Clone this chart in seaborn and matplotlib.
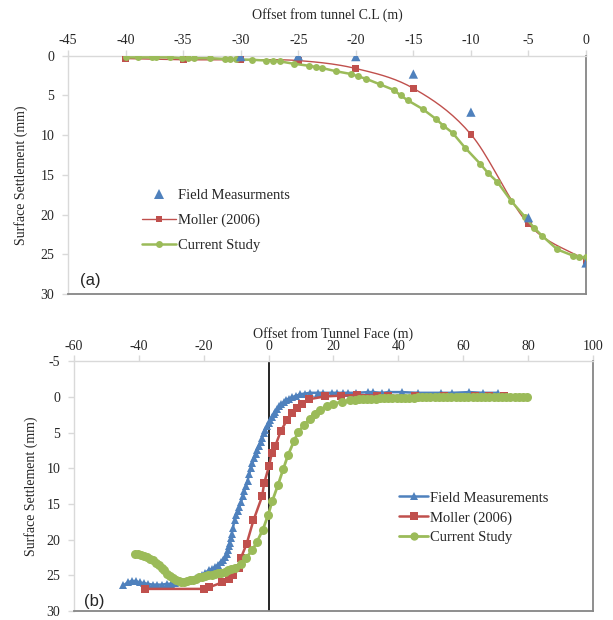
import numpy as np
import pandas as pd
import matplotlib
matplotlib.use("Agg")
import matplotlib.pyplot as plt
from matplotlib.lines import Line2D
import seaborn as sns

# ---------------- data: panel (a) ----------------
a_field_x = [-30, -25, -20, -15, -10, -5, 0]
a_field_y = [0.1, 0.0, 0.1, 2.3, 7.1, 20.4, 26.1]

a_moller_x = [-40, -35, -30, -25, -20, -15, -10, -5, 0]
a_moller_y = [0.35, 0.5, 0.5, 0.6, 1.6, 4.1, 9.9, 21.2, 25.8]

a_current_x = [-40.0, -38.9, -37.7, -37.4, -36.1, -35.1, -34.6, -34.1, -32.7, -31.4,
               -30.9, -30.4, -29.0, -27.8, -27.2, -26.6, -25.4, -24.1, -23.5, -22.9,
               -21.7, -20.4, -19.8, -19.1, -17.9, -16.7, -16.1, -15.5, -14.2, -13.0,
               -12.4, -11.6, -10.5, -9.2, -8.5, -7.7, -6.5, -5.3, -4.5, -3.8,
               -2.5, -1.1, -0.6, 0.0]
a_current_y = [0.2, 0.2, 0.2, 0.2, 0.2, 0.3, 0.3, 0.3, 0.3, 0.4,
               0.4, 0.45, 0.5, 0.6, 0.65, 0.7, 1.0, 1.25, 1.4, 1.55,
               1.95, 2.3, 2.6, 2.9, 3.6, 4.3, 5.0, 5.6, 6.7, 8.0,
               8.8, 9.7, 11.6, 13.6, 14.8, 15.9, 18.3, 20.3, 21.7, 22.7,
               24.4, 25.2, 25.4, 25.4]

# ---------------- data: panel (b) ----------------
b_field_x = [-44.8, -43.5, -42.3, -41.0, -39.8, -38.5, -37.2, -35.8, -34.5, -33.0,
             -31.5, -30.2, -28.8, -27.5, -26.2, -25.0, -23.8, -22.5, -21.5, -20.5,
             -19.5, -18.5, -17.5, -16.5, -15.6, -14.8, -14.1, -13.5, -13.0, -12.6,
             -12.3, -12.0, -11.7, -11.4, -11.0, -10.5, -10.0, -9.5, -9.0, -8.5,
             -8.0, -7.5, -7.0, -6.5, -6.0, -5.5, -5.0, -4.5, -4.0, -3.5,
             -3.0, -2.5, -2.0, -1.5, -1.0, -0.5, 0.0, 0.5, 1.0, 1.5,
             2.0, 2.6, 3.2, 3.9, 4.6, 5.4, 6.3, 7.3, 8.5, 9.8,
             11.2, 12.8, 15.3, 16.8, 19.4, 21.0, 23.0, 24.6, 27.0, 30.8,
             32.3, 35.0, 37.0, 41.0, 46.2, 53.2, 56.6, 61.9, 66.0, 70.7]
b_field_y = [26.4, 26.0, 25.8, 25.8, 26.0, 26.1, 26.2, 26.3, 26.3, 26.3,
             26.2, 26.2, 26.1, 26.0, 25.9, 25.8, 25.6, 25.4, 25.2, 24.9,
             24.6, 24.3, 24.1, 23.8, 23.5, 23.1, 22.8, 22.4, 22.0, 21.4,
             20.9, 20.4, 19.8, 19.2, 18.3, 17.2, 16.6, 16.0, 15.4, 14.7,
             13.9, 13.1, 12.4, 11.7, 10.8, 10.0, 9.3, 8.6, 8.0, 7.4,
             6.9, 6.3, 5.7, 5.1, 4.6, 4.1, 3.6, 3.2, 2.8, 2.4,
             2.1, 1.7, 1.3, 1.0, 0.7, 0.4, 0.2, 0.0, -0.2, -0.4,
             -0.5, -0.6, -0.6, -0.6, -0.6, -0.6, -0.6, -0.6, -0.6, -0.7,
             -0.7, -0.6, -0.7, -0.7, -0.6, -0.6, -0.6, -0.7, -0.6, -0.6]

b_moller_x = [-38.2, -19.8, -18.5, -14.4, -12.3, -11.0, -9.3, -8.6, -6.8, -4.7,
              -2.0, -1.4, 0.1, 1.0, 2.0, 3.8, 5.7, 7.3, 8.8, 10.3,
              12.4, 17.5, 22.2, 27.2, 33.3, 36.8, 45.3, 54.2, 63.6, 67.9, 72.6]
b_moller_y = [26.9, 26.9, 26.7, 26.0, 25.5, 24.9, 23.9, 22.6, 20.6, 17.3,
              13.9, 12.1, 9.7, 7.8, 6.9, 4.7, 3.2, 2.2, 1.5, 1.0,
              0.3, -0.1, -0.2, -0.3, -0.2, -0.2, -0.1, -0.1, -0.1, -0.1, -0.1]

b_current_x = [-41.3, -40.3, -39.4, -38.5, -37.6, -36.7, -35.8, -34.9, -33.9, -33.0,
               -32.2, -31.4, -30.5, -29.6, -28.7, -27.8, -26.9, -26.0, -25.1, -24.2,
               -23.3, -22.4, -21.5, -20.6, -19.6, -18.6, -17.6, -16.6, -15.6, -14.6,
               -13.6, -12.6, -11.6, -10.3, -8.5, -6.9, -5.1, -3.6, -1.8, -0.2,
               1.1, 2.9, 4.5, 6.0, 7.8, 9.1, 11.0, 12.7, 14.3, 15.8,
               17.9, 19.9, 22.5, 25.1, 26.5, 27.8, 29.1, 30.4, 31.7, 33.0,
               34.3, 35.6, 36.9, 38.2, 39.5, 40.8, 42.1, 43.4, 44.7, 46.0,
               47.3, 48.6, 49.9, 51.2, 52.5, 53.8, 55.1, 56.4, 57.7, 59.0,
               60.3, 61.6, 62.9, 64.2, 65.5, 66.8, 68.1, 69.4, 70.7, 72.0,
               73.3, 74.6, 75.9, 77.2, 78.5, 79.7]
b_current_y = [22.0, 22.0, 22.1, 22.3, 22.4, 22.7, 22.9, 23.2, 23.5, 23.9,
               24.3, 24.8, 25.1, 25.4, 25.6, 25.8, 25.9, 25.9, 25.8, 25.7,
               25.6, 25.5, 25.3, 25.2, 25.1, 25.0, 24.9, 24.8, 24.7, 24.6,
               24.5, 24.3, 24.1, 24.0, 23.4, 22.5, 21.5, 20.3, 18.6, 16.6,
               14.6, 12.3, 10.1, 8.1, 6.2, 4.9, 3.9, 3.0, 2.3, 1.8,
               1.3, 0.9, 0.7, 0.4, 0.35, 0.3, 0.3, 0.25, 0.22, 0.2,
               0.18, 0.16, 0.14, 0.12, 0.1, 0.1, 0.08, 0.07, 0.06, 0.05,
               0.05, 0.04, 0.03, 0.03, 0.02, 0.02, 0.02, 0.01, 0.01, 0.01,
               0.01, 0.0, 0.0, 0.0, 0.0, 0.0, 0.0, 0.0, 0.0, 0.0,
               0.0, 0.0, 0.0, 0.0, 0.0, 0.0]

a_xticks = [-45, -40, -35, -30, -25, -20, -15, -10, -5, 0]
a_yticks = [0, 5, 10, 15, 20, 25, 30]
b_xticks = [-60, -40, -20, 0, 20, 40, 60, 80, 100]
b_yticks = [-5, 0, 5, 10, 15, 20, 25, 30]

BLUE = "#4F81BD"
RED = "#C0504D"
GREEN = "#9BBB59"
LIGHT = "#D9D9D9"
DARK = "#868686"


def smooth(xs, ys, n=20):
    """Catmull-Rom style smoothing (like Excel's smoothed line)."""
    p = np.column_stack([xs, ys]).astype(float)
    m = np.zeros_like(p)
    m[1:-1] = (p[2:] - p[:-2]) / 2.0
    m[0] = p[1] - p[0]
    m[-1] = p[-1] - p[-2]
    out = []
    t = np.linspace(0, 1, n)[:, None]
    h00 = 2 * t**3 - 3 * t**2 + 1
    h10 = t**3 - 2 * t**2 + t
    h01 = -2 * t**3 + 3 * t**2
    h11 = t**3 - t**2
    for i in range(len(p) - 1):
        seg = h00 * p[i] + h10 * m[i] + h01 * p[i + 1] + h11 * m[i + 1]
        out.append(seg if i == 0 else seg[1:])
    s = np.vstack(out)
    return s[:, 0], s[:, 1]


sns.set_theme(style="white")
plt.rcParams["font.family"] = ["Liberation Serif", "DejaVu Serif"]
plt.rcParams["axes.unicode_minus"] = False

fig = plt.figure(figsize=(6.13, 6.20), dpi=100)
ax1 = fig.add_axes([0.111, 0.526, 0.845, 0.384])
ax2 = fig.add_axes([0.121, 0.0145, 0.846, 0.4025])

FS = 10

# ----- panel (a) -----
sx, sy = smooth(a_moller_x, a_moller_y)
sns.lineplot(x=sx, y=sy, ax=ax1, color=RED, lw=1.0, sort=False, estimator=None)
sns.scatterplot(x=a_moller_x, y=a_moller_y, ax=ax1, color=RED, marker="s", s=24,
                edgecolor="none", zorder=3)
sns.lineplot(x=a_current_x, y=a_current_y, ax=ax1, color=GREEN, lw=1.8, sort=False,
             estimator=None, marker="o", markersize=5, markeredgewidth=0, zorder=4)
sns.scatterplot(x=a_field_x, y=a_field_y, ax=ax1, color=BLUE, marker="^", s=45,
                edgecolor="none", zorder=5)

ax1.set_xlim(-45, 0)
ax1.set_ylim(30, 0)
ax1.set_xticks(a_xticks)
ax1.set_yticks(a_yticks)
ax1.xaxis.tick_top()
ax1.xaxis.set_label_position("top")
ax1.set_xlabel("Offset from tunnel C.L (m)", fontsize=FS, labelpad=11)
ax1.set_ylabel("Surface Settlement (mm)", fontsize=FS, labelpad=9)
ax1.text(-44.0, 28.3, "(a)", fontsize=12, family=["Liberation Sans", "DejaVu Sans"],
         va="center", ha="left")

h_a = [Line2D([], [], color=BLUE, marker="^", ls="none", markersize=7, markeredgewidth=0),
       Line2D([], [], color=RED, marker="s", lw=1.0, markersize=5, markeredgewidth=0),
       Line2D([], [], color=GREEN, marker="o", lw=1.8, markersize=5, markeredgewidth=0)]
ax1.legend(h_a, ["Field Measurments", "Moller (2006)", "Current Study"],
           loc="upper left", bbox_to_anchor=(0.118, 0.497), frameon=False,
           fontsize=10.5, labelspacing=0.8, handlelength=2.3, handletextpad=0.15)

# ----- panel (b) -----
ax2.axvline(0, color="black", lw=1.2, zorder=2)
sns.lineplot(x=b_field_x, y=b_field_y, ax=ax2, color=BLUE, lw=1.8, sort=False,
             estimator=None, marker="^", markersize=6, markeredgewidth=0, zorder=3)
sns.lineplot(x=b_moller_x, y=b_moller_y, ax=ax2, color=RED, lw=1.8, sort=False,
             estimator=None, marker="s", markersize=6, markeredgewidth=0, zorder=4)
sns.lineplot(x=b_current_x, y=b_current_y, ax=ax2, color=GREEN, lw=2.0, sort=False,
             estimator=None, marker="o", markersize=6.5, markeredgewidth=0, zorder=5)

ax2.set_xlim(-60, 100)
ax2.set_ylim(30, -5)
ax2.set_xticks(b_xticks)
ax2.set_yticks(b_yticks)
ax2.xaxis.tick_top()
ax2.xaxis.set_label_position("top")
ax2.set_xlabel("Offset from Tunnel Face (m)", fontsize=FS, labelpad=2)
ax2.set_ylabel("Surface Settlement (mm)", fontsize=FS, labelpad=6)
ax2.text(-57.0, 28.7, "(b)", fontsize=12, family=["Liberation Sans", "DejaVu Sans"],
         va="center", ha="left")

h_b = [Line2D([], [], color=BLUE, marker="^", lw=1.8, markersize=6, markeredgewidth=0),
       Line2D([], [], color=RED, marker="s", lw=1.8, markersize=6, markeredgewidth=0),
       Line2D([], [], color=GREEN, marker="o", lw=2.0, markersize=6, markeredgewidth=0)]
ax2.legend(h_b, ["Field Measurements", "Moller (2006)", "Current Study"],
           loc="upper left", bbox_to_anchor=(0.601, 0.532), frameon=False,
           fontsize=10.5, labelspacing=0.45, handlelength=2.0, handletextpad=0.1)

for ax in (ax1, ax2):
    ax.set_facecolor("white")
    ax.grid(False)
    for side in ("left", "top"):
        ax.spines[side].set_color(LIGHT)
        ax.spines[side].set_linewidth(1.0)
    for side in ("right", "bottom"):
        ax.spines[side].set_color(DARK)
        ax.spines[side].set_linewidth(1.3)
    ax.tick_params(axis="x", which="both", top=True, bottom=False, labeltop=True,
                   labelbottom=False, direction="out", length=4, width=1,
                   color=LIGHT, labelsize=FS, pad=2)
    ax.tick_params(axis="y", which="both", left=True, right=False, direction="out",
                   length=4, width=1, color=LIGHT, labelsize=FS, pad=6)

fig.savefig("out.png", dpi=100, facecolor="white")
